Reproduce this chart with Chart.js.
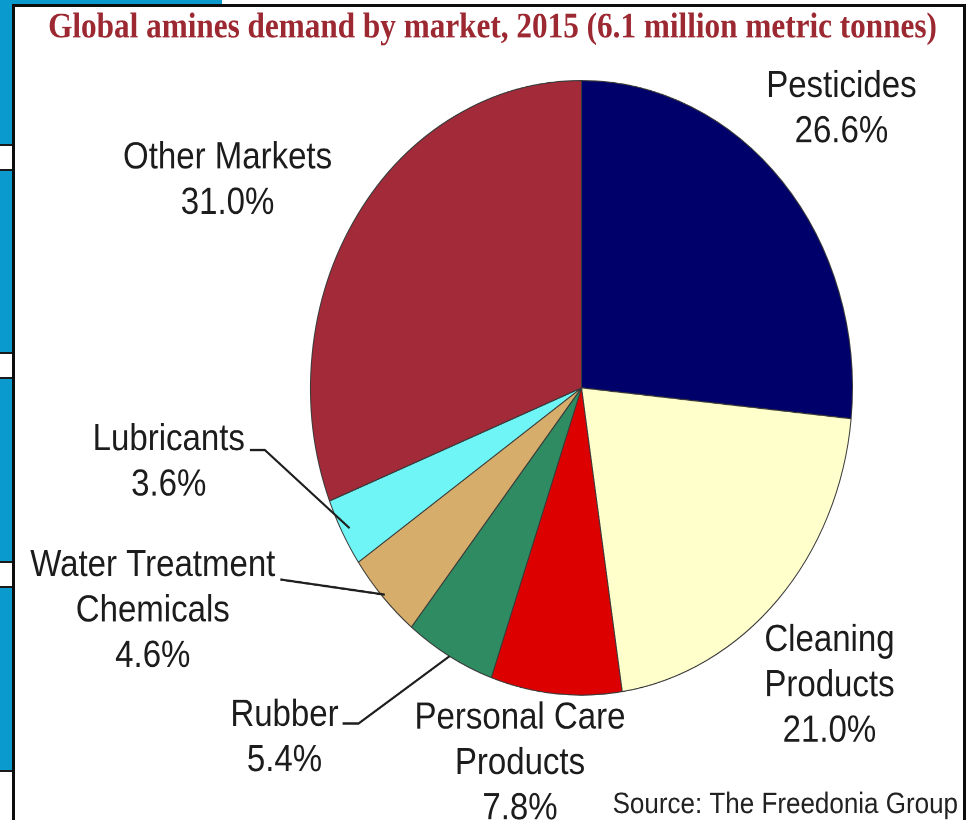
<!DOCTYPE html>
<html>
<head>
<meta charset="utf-8">
<script src="https://cdn.jsdelivr.net/npm/chart.js@4.4.1/dist/chart.umd.min.js"></script>
<style>
  html, body { margin:0; padding:0; background:#fff; width:970px; height:820px; overflow:hidden; }
  body { position:relative; }
  .blue { position:absolute; left:0; width:12px; background:#0a9acd; box-sizing:border-box; border-top:2px solid #1a1a1a; border-bottom:2px solid #1a1a1a; }
  #topblue { position:absolute; left:0; top:0; width:222px; height:5px; background:#0a9acd; }
  #frame { position:absolute; left:12px; top:4px; width:948px; height:830px; border:3px solid #0d0d0d; border-bottom:none; background:#fff; }
  #wrap { position:absolute; left:0; top:0; width:970px; height:723px; transform:scaleY(1.134); transform-origin:0 0; }
</style>
</head>
<body>
<div id="topblue"></div>
<div class="blue" style="top:0;height:146px;border-top:none"></div>
<div class="blue" style="top:169px;height:185px"></div>
<div class="blue" style="top:377px;height:186px"></div>
<div class="blue" style="top:586px;height:186px"></div>
<div id="frame"></div>
<div id="wrap"><canvas id="c" width="970" height="723"></canvas></div>
<script>
// ---- data ----
const titleText = 'Global amines demand by market, 2015 (6.1 million metric tonnes)';
const sourceText = 'Source: The Freedonia Group';
const categories = [
  ['Pesticides'],
  ['Cleaning', 'Products'],
  ['Personal Care', 'Products'],
  ['Rubber'],
  ['Water Treatment', 'Chemicals'],
  ['Lubricants'],
  ['Other Markets']
];
const shares = [26.6, 21.0, 7.8, 5.4, 4.6, 3.6, 31.0];

// ---- styles ----
const sliceColors = ['#00006a', '#ffffcc', '#dd0000', '#2e8b62', '#d6ad6a', '#6ff5f5', '#a32a38'];
// label placement relative to pie centre, in units of the pie radius
const labelPlacement = [
  { dx: 0.959, dy: -0.990 },
  { dx: 0.915, dy: 0.812 },
  { dx: -0.227, dy: 1.066 },
  { dx: -1.096, dy: 1.056, lead: { h: 16, r: 1.0, gap: 4, yoff: -2 } },
  { dx: -1.582, dy: 0.569, lead: { h: 0, r: 0.99, gap: 5, yoff: 3 } },
  { dx: -1.523, dy: 0.159, lead: { h: 15, r: 0.97, gap: 5, yoff: 0 } },
  { dx: -1.306, dy: -0.757 }
];
const labelFont = '33px "Liberation Sans", Arial, sans-serif';
const labelSize = 33;
const lineGap = 40;

// fit title font to width
const mctx = document.createElement('canvas').getContext('2d');
mctx.font = 'bold 30px "Liberation Serif", "Times New Roman", serif';
const titleSize = 30 * 889 / mctx.measureText(titleText).width;

const decorPlugin = {
  id: 'decor',
  afterDatasetsDraw(chart) {
    const ctx = chart.ctx;
    const meta = chart.getDatasetMeta(0);
    ctx.save();
    // title
    ctx.font = 'bold ' + titleSize.toFixed(2) + 'px "Liberation Serif", "Times New Roman", serif';
    ctx.fillStyle = '#9c2832';
    ctx.textAlign = 'center';
    ctx.textBaseline = 'alphabetic';
    ctx.fillText(titleText, 492.5, 33);

    // labels
    ctx.font = labelFont;
    ctx.fillStyle = '#1c1c1c';
    meta.data.forEach((arc, i) => {
      const p = arc.getProps(['x', 'y', 'outerRadius', 'startAngle', 'endAngle'], true);
      const pl = labelPlacement[i];
      const cx = p.x + pl.dx * p.outerRadius;
      const cy = p.y + pl.dy * p.outerRadius;
      const lines = categories[i].concat([shares[i].toFixed(1) + '%']);
      lines.forEach((t, k) => {
        ctx.fillText(t, cx, cy + k * lineGap + 0.358 * labelSize);
      });
      if (pl.lead) {
        const w = ctx.measureText(lines[0]).width;
        const sx = cx + w / 2 + pl.lead.gap;
        const sy = cy + 0.358 * labelSize + pl.lead.yoff;
        const mid = (p.startAngle + p.endAngle) / 2;
        const ex = p.x + Math.cos(mid) * p.outerRadius * pl.lead.r;
        const ey = p.y + Math.sin(mid) * p.outerRadius * pl.lead.r;
        ctx.beginPath();
        ctx.moveTo(sx, sy);
        ctx.lineTo(sx + pl.lead.h, sy);
        ctx.lineTo(ex, ey);
        ctx.strokeStyle = '#1e1e1e';
        ctx.lineWidth = 2;
        ctx.stroke();
      }
    });

    // source
    ctx.font = '26px "Liberation Sans", Arial, sans-serif';
    ctx.textAlign = 'right';
    ctx.fillStyle = '#222';
    ctx.fillText(sourceText, 958, 717);
    ctx.restore();
  }
};

new Chart(document.getElementById('c'), {
  type: 'pie',
  data: {
    labels: categories,
    datasets: [{
      data: shares,
      backgroundColor: sliceColors,
      borderColor: '#3a3a3a',
      borderWidth: 1,
      hoverOffset: 0
    }]
  },
  options: {
    responsive: false,
    animation: false,
    devicePixelRatio: 2,
    events: [],
    layout: { padding: { left: 310, right: 117, top: 70.5, bottom: 109.5 } },
    plugins: { legend: { display: false }, tooltip: { enabled: false }, title: { display: false } }
  },
  plugins: [decorPlugin]
});
</script>
</body>
</html>
